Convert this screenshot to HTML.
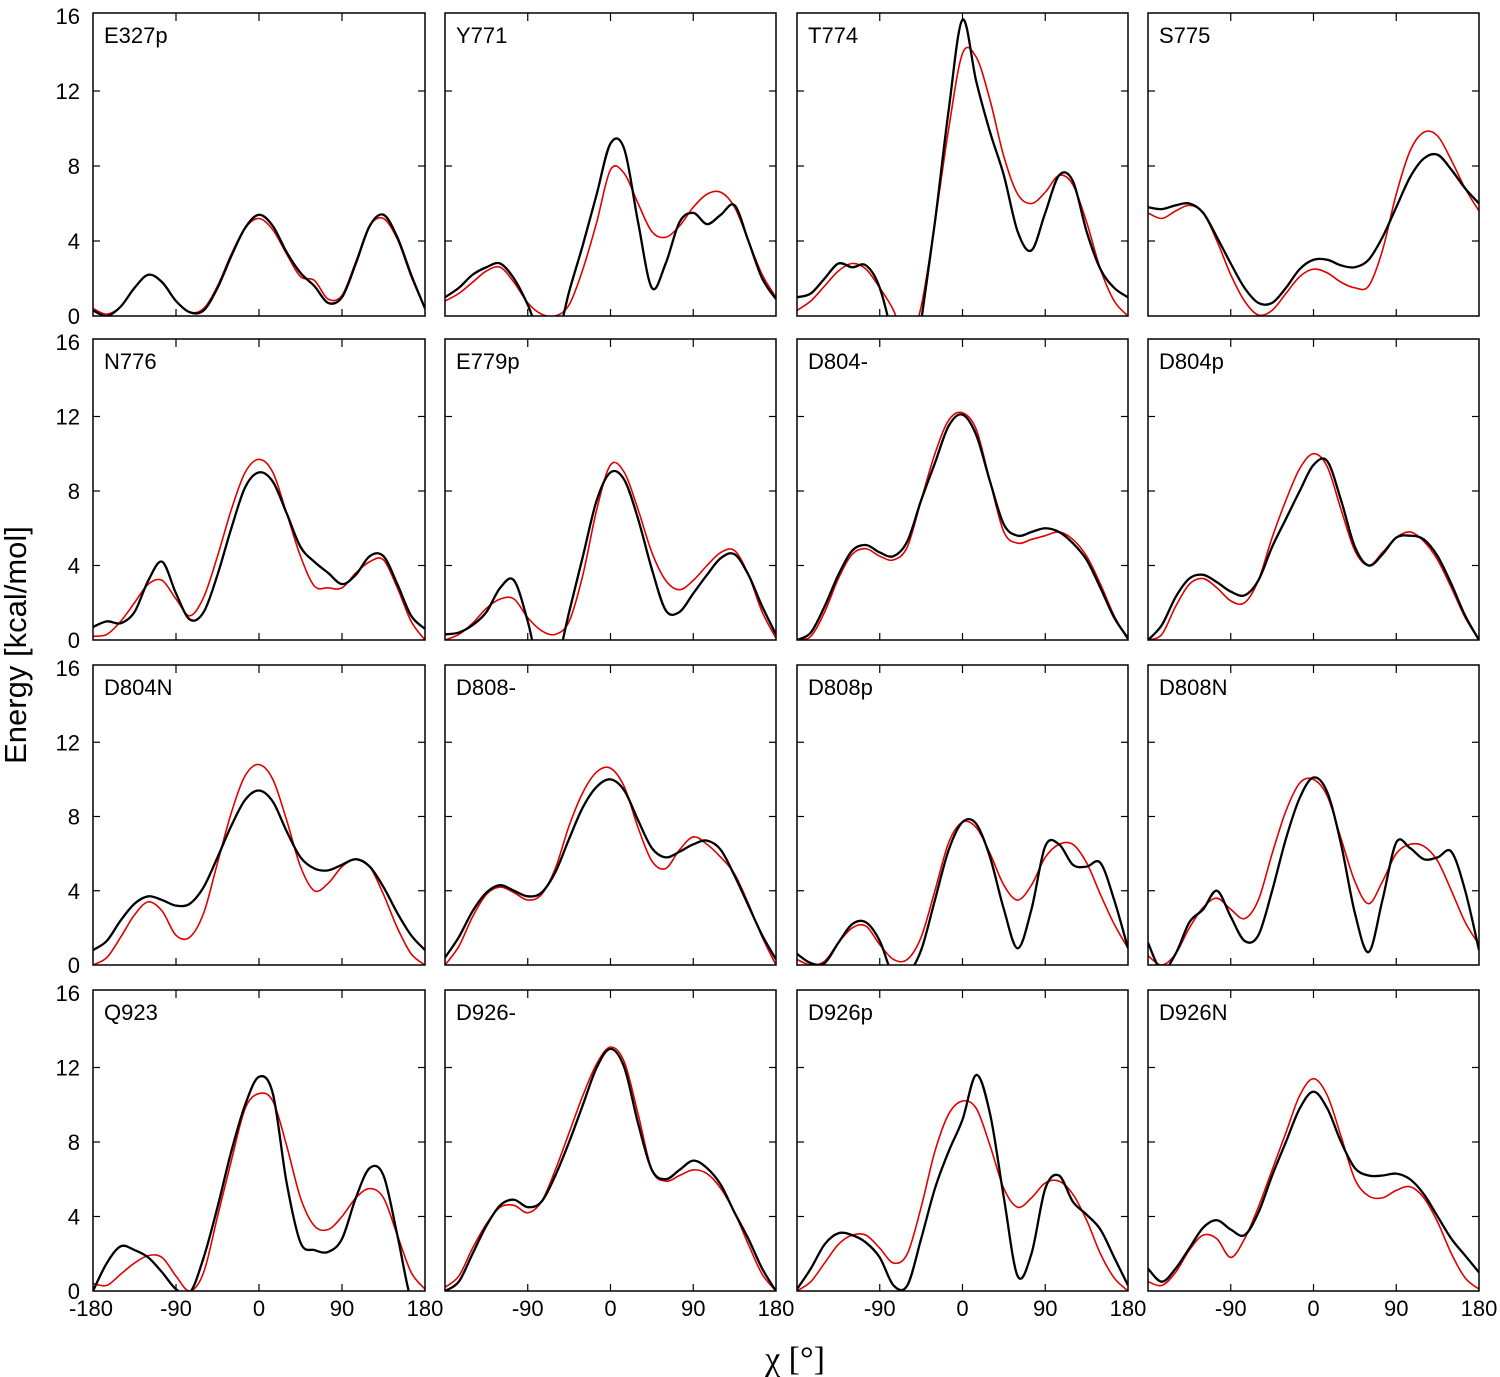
<!DOCTYPE html>
<html><head><meta charset="utf-8"><style>
html,body{margin:0;padding:0;background:#fff;}
svg{display:block;font-family:"Liberation Sans",sans-serif;}
</style></head><body>
<svg id="chart" width="1500" height="1377" viewBox="0 0 1500 1377" xmlns="http://www.w3.org/2000/svg">
<text x="0" y="0" transform="translate(26,645) rotate(-90)" text-anchor="middle" font-size="31">Energy [kcal/mol]</text>
<text x="795" y="1370" text-anchor="middle" font-size="34" font-family="'Liberation Serif',serif">χ [°]</text>
</svg>
<script>
const angles=[-180,-165,-150,-135,-120,-105,-90,-75,-60,-45,-30,-15,0,15,30,45,60,75,90,105,120,135,150,165,180];
const yTicks=[0,4,8,12,16];
const xTicks=[-180,-90,0,90,180];
const names=["E327p","Y771","T774","S775","N776","E779p","D804-","D804p","D804N","D808-","D808p","D808N","Q923","D926-","D926p","D926N"];
const blackE327p=[0.3,0,0.5,1.5,2.2,1.8,0.8,0.2,0.3,1.5,3.2,4.7,5.4,4.8,3.4,2.3,1.6,0.7,1.0,2.8,4.8,5.4,4.2,2.2,0.4];
const redE327p=[0.4,0.1,0.5,1.5,2.2,1.8,0.8,0.2,0.4,1.6,3.3,4.7,5.2,4.6,3.3,2.1,1.9,0.9,1.1,2.9,4.8,5.2,4.1,2.1,0.4];
const blackY771=[1.0,1.5,2.2,2.6,2.8,2.0,0.6,-1.2,-1.5,1.3,3.8,6.5,9.2,8.9,5.0,1.5,2.8,5.0,5.5,4.9,5.4,5.9,4.0,2.0,0.9];
const redY771=[0.8,1.2,1.8,2.4,2.6,1.8,0.7,0.1,0,0.6,2.5,5.0,7.8,7.6,6.0,4.5,4.2,4.8,5.8,6.5,6.6,5.8,4.0,2.2,1.0];
const blackT774=[1.0,1.2,2.0,2.8,2.6,2.7,1.5,-1.5,-6,-0.3,5,11,15.8,12.5,9.8,7.5,4.5,3.5,5.5,7.5,7.2,4.5,2.5,1.5,1.0];
const redT774=[0.3,0.8,1.6,2.4,2.8,2.5,1.5,0.3,-1.5,0.5,5,10,14,13.8,11.5,8.5,6.5,6.0,6.6,7.5,7.0,5.0,2.5,0.8,0];
const blackS775=[5.8,5.7,5.9,6.0,5.5,4.2,2.8,1.5,0.7,0.7,1.5,2.5,3.0,3.0,2.7,2.6,3.0,4.2,5.8,7.4,8.4,8.6,7.8,6.8,6.0];
const redS775=[5.5,5.2,5.6,5.9,5.5,4.0,2.2,0.8,0.05,0.3,1.2,2.1,2.5,2.3,1.8,1.5,1.6,3.5,6.5,8.8,9.8,9.6,8.3,6.8,5.6];
const blackN776=[0.7,1.0,0.9,1.5,3.2,4.2,2.5,1.1,1.5,3.5,6,8.2,9.0,8.5,6.8,5.0,4.2,3.6,3.0,3.5,4.5,4.5,3.0,1.3,0.6];
const redN776=[0.2,0.3,1.0,2.0,3.0,3.2,2.2,1.3,2.3,4.5,7.0,9.0,9.7,9.0,6.8,4.5,2.9,2.8,2.8,3.6,4.2,4.3,2.8,1.0,0];
const blackE779p=[0.3,0.4,0.8,1.5,2.8,3.2,1.0,-2,-1.5,1.5,4.5,7.5,9.0,8.6,6.5,3.8,1.6,1.5,2.5,3.5,4.4,4.6,3.5,1.8,0.3];
const redE779p=[0,0.3,0.9,1.7,2.2,2.2,1.2,0.5,0.3,1.0,3.5,7.0,9.4,9.0,7.0,4.7,3.2,2.7,3.2,4.0,4.7,4.8,3.5,1.5,0.1];
const blackD804m=[0,0.4,1.8,3.5,4.8,5.1,4.7,4.5,5.3,7.5,9.5,11.5,12.1,11.0,8.5,6.2,5.6,5.8,6.0,5.8,5.2,4.3,2.8,1.2,0.1];
const redD804m=[0,0.2,1.5,3.3,4.6,4.9,4.5,4.3,5.0,7.5,10,11.8,12.2,11.3,8.5,5.8,5.2,5.4,5.6,5.8,5.4,4.5,3.0,1.3,0];
const blackD804p=[0,0.8,2.3,3.3,3.5,3.1,2.6,2.4,3.2,5.0,6.5,8.0,9.4,9.6,7.5,5.0,4.0,4.6,5.5,5.6,5.4,4.5,3.0,1.3,0];
const redD804p=[0,0.3,1.8,3.0,3.3,2.8,2.1,2.0,3.2,5.5,7.5,9.2,10.0,9.3,7.0,4.8,4.0,4.7,5.5,5.8,5.3,4.3,2.8,1.2,0];
const blackD804N=[0.8,1.3,2.4,3.3,3.7,3.5,3.2,3.3,4.2,5.8,7.5,8.9,9.4,8.8,7.2,5.8,5.2,5.1,5.4,5.7,5.3,4.2,2.8,1.6,0.8];
const redD804N=[0,0.4,1.5,2.7,3.4,2.9,1.6,1.5,2.8,5.5,8.2,10.2,10.8,10.0,7.8,5.3,4.0,4.4,5.3,5.7,5.3,3.8,2.0,0.6,0];
const blackD808m=[0.4,1.5,2.9,3.9,4.3,4.0,3.7,3.9,5.0,6.8,8.5,9.6,10.0,9.4,7.8,6.3,5.8,6.1,6.5,6.7,6.2,4.8,3.2,1.6,0.3];
const redD808m=[0,1.0,2.6,3.8,4.2,3.9,3.5,3.8,5.2,7.5,9.3,10.4,10.6,9.6,7.4,5.6,5.2,6.2,6.9,6.5,5.8,4.9,3.3,1.5,0];
const blackD808p=[0.6,0.1,0.1,1.2,2.2,2.3,1.3,-0.6,-0.5,0.8,3.5,6.2,7.7,7.6,5.8,3.0,0.9,3.0,6.4,6.5,5.4,5.3,5.5,3.5,0.9];
const redD808p=[0.3,0,0.2,1.2,2.0,2.1,1.1,0.3,0.3,1.5,4.0,6.6,7.7,7.4,6.0,4.3,3.5,4.3,5.8,6.5,6.5,5.5,3.8,2.2,0.9];
const blackD808N=[1.2,-0.3,0.6,2.3,3.0,4.0,2.6,1.3,1.6,4.0,6.8,9.0,10.1,9.3,6.5,2.8,0.7,3.5,6.6,6.3,5.7,5.8,6.1,4.0,0.8];
const redD808N=[0.5,0,0.6,2.0,3.1,3.6,3.0,2.5,3.5,6.0,8.3,9.8,10.0,9.1,6.8,4.5,3.3,4.5,6.0,6.5,6.4,5.6,4.0,2.3,1.1];
const blackQ923=[0,1.5,2.4,2.2,1.8,1.0,0.1,-0.1,1.8,4.5,7.5,10.0,11.5,10.6,5.8,2.6,2.2,2.1,2.8,5.0,6.6,6.2,3.0,-0.5,-1.5];
const redQ923=[0.4,0.3,0.9,1.5,1.9,1.8,0.8,0.0,1.0,4.0,7.0,9.8,10.6,10.2,7.8,5.0,3.5,3.3,4.0,5.0,5.5,5.0,3.0,1.0,0.1];
const blackD926m=[0,0.5,2.0,3.5,4.6,4.9,4.5,4.8,6.2,8.0,10.0,12.0,13.0,12.0,9.0,6.5,6.0,6.5,7.0,6.6,5.7,4.2,2.8,1.2,0];
const redD926m=[0.2,0.8,2.3,3.6,4.5,4.6,4.2,4.8,6.5,8.5,10.5,12.2,13.1,12.3,9.5,6.5,5.9,6.2,6.5,6.3,5.5,4.2,2.5,0.9,0];
const blackD926p=[0.1,1.2,2.5,3.1,3.0,2.6,1.8,0.3,0.3,2.8,5.5,7.5,9.2,11.6,9.5,5.0,0.8,2.0,5.5,6.2,4.8,4.1,3.3,1.8,0.3];
const redD926p=[0,0.5,1.5,2.5,3.0,3.0,2.3,1.5,2.0,4.5,7.5,9.5,10.2,9.8,7.8,5.5,4.5,5.0,5.8,5.9,5.2,3.8,2.0,0.7,0];
const blackD926N=[1.2,0.5,1.2,2.3,3.4,3.8,3.3,3.0,4.2,6.2,8.0,9.8,10.7,9.8,8.0,6.6,6.2,6.2,6.3,6.0,5.2,4.0,2.8,1.9,1.0];
const redD926N=[0.5,0.3,1.0,2.2,3.0,2.8,1.8,2.8,4.5,6.5,8.5,10.5,11.4,10.5,8.3,6.0,5.1,5.0,5.4,5.6,5.0,3.7,2.0,0.7,0.1];
const blackSeries=[blackE327p,blackY771,blackT774,blackS775,blackN776,blackE779p,blackD804m,blackD804p,blackD804N,blackD808m,blackD808p,blackD808N,blackQ923,blackD926m,blackD926p,blackD926N];
const redSeries=[redE327p,redY771,redT774,redS775,redN776,redE779p,redD804m,redD804p,redD804N,redD808m,redD808p,redD808N,redQ923,redD926m,redD926p,redD926N];

const NS="http://www.w3.org/2000/svg";
const svg=document.getElementById('chart');
const colL=[93,445,797,1148], colR=[425,776,1128,1479];
const rowT=[16,342,668,993], rowB=[316,640,965,1291];
function mk(tag,attrs,parent){const e=document.createElementNS(NS,tag);for(const k in attrs)e.setAttribute(k,attrs[k]);(parent||svg).appendChild(e);return e;}
function spline(pts){
  let d="M"+pts[0][0].toFixed(2)+","+pts[0][1].toFixed(2);
  for(let i=0;i<pts.length-1;i++){
    const p0=pts[Math.max(0,i-1)],p1=pts[i],p2=pts[i+1],p3=pts[Math.min(pts.length-1,i+2)];
    const c1x=p1[0]+(p2[0]-p0[0])/6,c1y=p1[1]+(p2[1]-p0[1])/6;
    const c2x=p2[0]-(p3[0]-p1[0])/6,c2y=p2[1]-(p3[1]-p1[1])/6;
    d+=" C"+c1x.toFixed(2)+","+c1y.toFixed(2)+" "+c2x.toFixed(2)+","+c2y.toFixed(2)+" "+p2[0].toFixed(2)+","+p2[1].toFixed(2);
  }
  return d;
}
const defs=mk('defs',{});
for(let p=0;p<16;p++){
  const c=p%4,r=Math.floor(p/4);
  const L=colL[c],R=colR[c],T=rowT[r],B=rowB[r];
  const xs=a=>L+(a+180)/360*(R-L);
  const ys=v=>B-v/16*(B-T);
  const g=mk('g',{});
  
  
  const cp=mk('clipPath',{id:'cp'+p},defs);
  mk('rect',{x:L,y:T-3,width:R-L,height:B-T+3},cp);
  const redPath=mk('path',{d:spline(angles.map((a,i)=>[xs(a),ys(redSeries[p][i])])),fill:'none',stroke:'#e00000','stroke-width':1.6,'clip-path':'url(#cp'+p+')'},g);
  
  
  const blkPath=mk('path',{d:spline(angles.map((a,i)=>[xs(a),ys(blackSeries[p][i])])),fill:'none',stroke:'#000','stroke-width':2.3,'clip-path':'url(#cp'+p+')'},g);
  
  
  const fr=mk('rect',{x:L,y:rowT[r]-3,width:R-L,height:B-rowT[r]+3,fill:'none',stroke:'#000','stroke-width':1.5},g);
  
  
  yTicks.forEach(v=>{
    if(v===0||v===16)return;
    mk('line',{x1:L,x2:L+7,y1:ys(v),y2:ys(v),stroke:'#000','stroke-width':1.2},g);
    mk('line',{x1:R-7,x2:R,y1:ys(v),y2:ys(v),stroke:'#000','stroke-width':1.2},g);
  });
  xTicks.forEach(a=>{
    if(a===-180||a===180)return;
    mk('line',{x1:xs(a),x2:xs(a),y1:rowT[r]-3,y2:rowT[r]+5,stroke:'#000','stroke-width':1.2},g);
    mk('line',{x1:xs(a),x2:xs(a),y1:B-7,y2:B,stroke:'#000','stroke-width':1.2},g);
  });
  const lbl=mk('text',{x:L+11,y:T+27,'font-size':22},g);
  lbl.textContent=names[p];
  
  
  if(c===0){
    yTicks.forEach(v=>{
      const t=mk('text',{x:80,y:ys(v)+8,'text-anchor':'end','font-size':22},g);
      t.textContent=v;
      
      
    });
  }
  if(r===3){
    xTicks.forEach(a=>{
      if(a===-180&&c!==0)return;
      const t=mk('text',{x:xs(a)+(a===-180?-2:0),y:1316,'text-anchor':'middle','font-size':22},g);
      t.textContent=a;
      
      
    });
  }
}
</script>
</body></html>
